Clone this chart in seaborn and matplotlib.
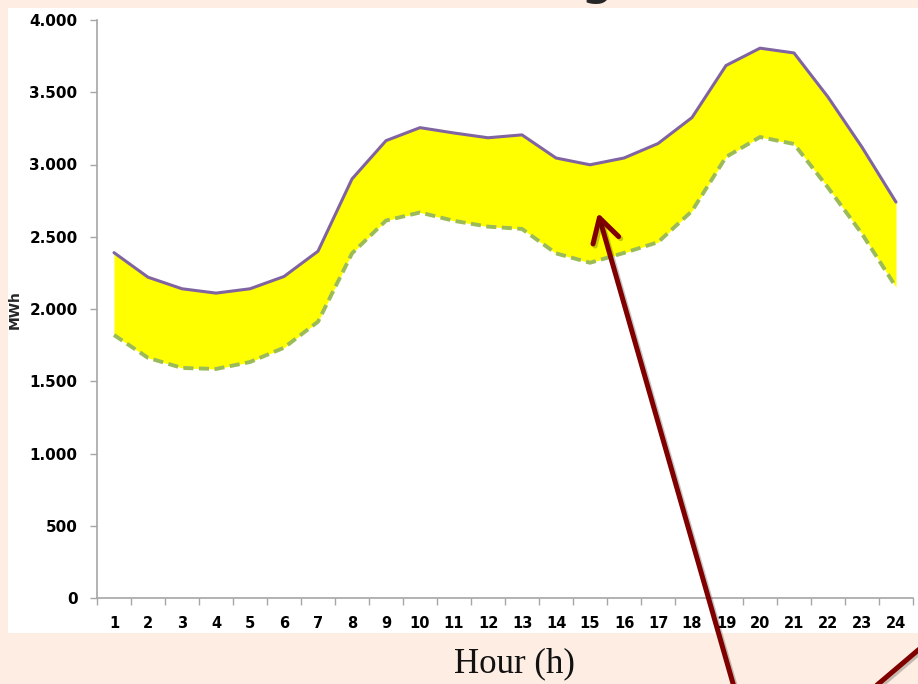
import matplotlib
matplotlib.use("Agg")
import numpy as np
import pandas as pd
import seaborn as sns
import matplotlib.pyplot as plt
import matplotlib.patheffects as pe
from matplotlib.patches import Rectangle
from matplotlib.lines import Line2D

# Hourly load band (MWh): upper and lower envelope
hours = list(range(1, 25))
upper = [2390, 2220, 2140, 2110, 2140, 2225, 2400, 2900, 3165, 3255, 3218, 3185,
         3205, 3045, 2998, 3045, 3145, 3325, 3685, 3805, 3772, 3467, 3120, 2740]
lower = [1820, 1662, 1592, 1585, 1633, 1732, 1912, 2385, 2612, 2668, 2610, 2570,
         2554, 2385, 2320, 2388, 2462, 2678, 3052, 3190, 3142, 2840, 2520, 2152]
x_labels = [str(h) for h in hours]
y_ticks = [0, 500, 1000, 1500, 2000, 2500, 3000, 3500, 4000]
y_labels = ["0", "500", "1.000", "1.500", "2.000", "2.500", "3.000", "3.500", "4.000"]

df = pd.DataFrame({"hour": hours, "upper": upper, "lower": lower})

sns.set_theme(style="ticks")
plt.rcParams["font.family"] = ["DejaVu Sans"]

W, H = 918, 684
BG = "#FDEDE2"
DARKRED = "#800000"
AXIS_GREY = "#A6A6A6"

fig = plt.figure(figsize=(W / 100, H / 100), dpi=100, facecolor=BG)

# white chart panel
fig.add_artist(Rectangle((8 / W, 1 - 633 / H), 910 / W, 625 / H,
                         transform=fig.transFigure, facecolor="white",
                         edgecolor="none", zorder=0))

ax = fig.add_axes([97 / W, 1 - 598 / H, (913 - 97) / W, (598 - 20) / H])
ax.patch.set_visible(False)

ax.fill_between(df["hour"], df["lower"], df["upper"], color="#FFFF00", lw=0, zorder=1)
sns.lineplot(data=df, x="hour", y="upper", ax=ax, color="#8064A2", lw=2.2, zorder=3)
sns.lineplot(data=df, x="hour", y="lower", ax=ax, color="#9BBB59", lw=2.8,
             linestyle=(0, (2.6, 1.4)), zorder=3)

ax.set_xlim(0.5, 24.5)
ax.set_ylim(0, 4000)
ax.set_xticks(hours)
ax.set_xticklabels(x_labels)
ax.set_xticks(np.arange(0.5, 25, 1), minor=True)
ax.set_yticks(y_ticks)
ax.set_yticklabels(y_labels)
ax.set_xlabel("")
ax.set_ylabel("")
ax.grid(False)

ax.tick_params(axis="x", which="major", length=0, pad=13, labelsize=10.5, labelcolor="black")
ax.tick_params(axis="x", which="minor", length=5, width=1, color=AXIS_GREY, direction="out")
ax.tick_params(axis="y", which="major", length=5, width=1, color=AXIS_GREY, direction="out",
               pad=9, labelsize=11, labelcolor="black")
for lbl in ax.get_xticklabels() + ax.get_yticklabels():
    lbl.set_fontweight("bold")

sns.despine(ax=ax)
for side in ("left", "bottom"):
    ax.spines[side].set_color(AXIS_GREY)
    ax.spines[side].set_linewidth(1.2)

fig.text(15 / W, 1 - 310 / H, "MWh", rotation=90, fontsize=10, fontweight="bold",
         ha="center", va="center")
fig.text(514 / W, 1 - 664 / H, "Hour (h)", family="Liberation Serif", fontsize=25,
         ha="center", va="center", color="#111111")

# tail of the slide heading above the panel
fig.text(598 / W, 1 + 8 / H, "g", fontsize=40, ha="center", va="baseline")

shadow = [pe.SimpleLineShadow(offset=(1.5, -1.5), shadow_color="k", alpha=0.25), pe.Normal()]

ax.annotate("", xy=(598 / W, 1 - 213 / H), xycoords="figure fraction",
            xytext=(736 / W, 1 - 694 / H), textcoords="figure fraction",
            arrowprops=dict(arrowstyle="->,head_length=1.4,head_width=0.8",
                            color=DARKRED, lw=3.6, shrinkA=0, shrinkB=0,
                            path_effects=shadow),
            annotation_clip=False, zorder=10)

fig.add_artist(Line2D([870 / W, 930 / W], [1 - 691 / H, 1 - 640 / H],
                      transform=fig.transFigure, color=DARKRED, lw=3.6,
                      path_effects=shadow, zorder=10))

fig.savefig("out.png", dpi=100, facecolor=BG)
